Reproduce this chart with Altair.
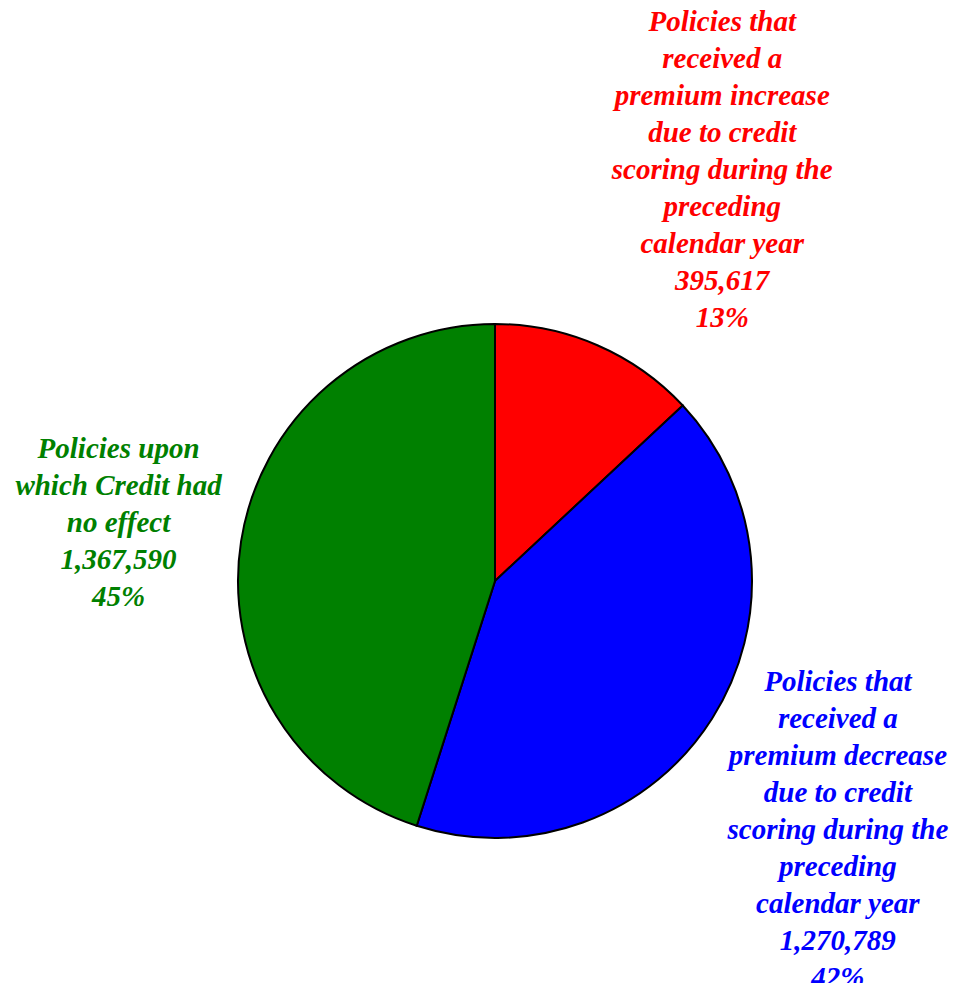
import altair as alt
import pandas as pd

categories = ["increase", "decrease", "noeffect"]
names = [
    "Policies that\nreceived a\npremium increase\ndue to credit\nscoring during the\npreceding\ncalendar year",
    "Policies that\nreceived a\npremium decrease\ndue to credit\nscoring during the\npreceding\ncalendar year",
    "Policies upon\nwhich Credit had\nno effect",
]
values = [395617, 1270789, 1367590]
percents = ["13%", "42%", "45%"]
colors = ["#FF0000", "#0000FF", "#008000"]
order = [0, 1, 2]

df = pd.DataFrame({
    "cat": categories,
    "value": values,
    "order": order,
    "label": [f"{n}\n{v:,}\n{p}" for n, v, p in zip(names, values, percents)],
})

CX, CY = 487, 572

color = alt.Color("cat:N", scale=alt.Scale(domain=categories, range=colors), legend=None)

base = (
    alt.Chart(df)
    .transform_window(cum="sum(value)", sort=[alt.SortField("order")], frame=[None, 0])
    .transform_joinaggregate(total="sum(value)")
    .transform_calculate(
        start="2*PI*(datum.cum - datum.value)/datum.total",
        end="2*PI*datum.cum/datum.total",
        mid="2*PI*(datum.cum - datum.value/2)/datum.total",
    )
)

arc = base.mark_arc(outerRadius=257, stroke="black", strokeWidth=2).encode(
    theta=alt.Theta("start:Q", scale=None),
    theta2="end:Q",
    color=color,
    x=alt.value(CX),
    y=alt.value(CY),
)

label_style = dict(
    font="Liberation Serif",
    fontSize=29,
    fontStyle="italic",
    fontWeight="bold",
    lineBreak="\n",
    lineHeight=37,
    align="center",
    baseline="middle",
)

placements = {
    "increase": (450, 48, -146),
    "decrease": (420, -12, -124),
    "noeffect": (380, -1, -73),
}

layers = [arc]
for cat in categories:
    r, dx, dy = placements[cat]
    layers.append(
        base.transform_filter(alt.datum.cat == cat)
        .mark_text(radius=r, dx=dx, dy=dy, **label_style)
        .encode(
            theta=alt.Theta("mid:Q", scale=None),
            text="label:N",
            color=color,
            x=alt.value(CX),
            y=alt.value(CY),
        )
    )

chart = (
    alt.layer(*layers)
    .properties(width=942, height=975, padding=0,
                autosize=alt.AutoSizeParams(type="fit", contains="padding"))
    .configure_view(stroke=None)
)

chart.save("out.html", embed_options={"renderer": "svg", "actions": False})
